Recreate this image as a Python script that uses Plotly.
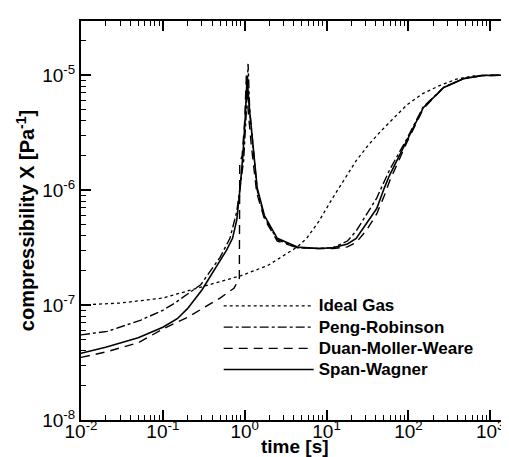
import plotly.graph_objects as go

# ---- data ----
ideal_t = [0.01, 0.03, 0.1, 0.22, 0.5, 0.9, 1.9, 3, 4.4, 5.7, 8, 11.6, 16, 23, 33, 47, 70, 96, 150, 240, 385, 600, 1000, 2000]
ideal_x = [1.0e-7, 1.04e-7, 1.15e-7, 1.35e-7, 1.6e-7, 1.8e-7, 2.2e-7, 2.7e-7, 3.2e-7, 3.8e-7, 5.3e-7, 8.3e-7,
           1.2e-6, 1.8e-6, 2.5e-6, 3.3e-6, 4.4e-6, 5.5e-6, 6.9e-6, 8.1e-6, 9.2e-6, 9.8e-6, 1.0e-5, 1.0e-5]

pr_t = [0.01, 0.021, 0.054, 0.1, 0.14, 0.29, 0.5, 0.66, 0.8, 0.9, 0.97, 1.05, 1.1, 1.15, 1.25, 1.42, 1.74, 2.5,
        4.4, 8, 12, 18, 23, 31, 41, 51, 59, 96, 152, 270, 470, 800, 1200, 2000]
pr_x = [5.5e-8, 5.9e-8, 7.4e-8, 9.0e-8, 1.04e-7, 1.5e-7, 2.6e-7, 3.8e-7, 6.5e-7, 1.3e-6, 1.8e-6, 5.0e-6, 1.25e-5,
        5.0e-6, 2.6e-6, 1.0e-6, 5.8e-7, 3.7e-7, 3.15e-7, 3.1e-7, 3.15e-7, 3.6e-7, 4.4e-7, 6.2e-7, 8.5e-7, 1.2e-6,
        1.5e-6, 2.8e-6, 5.3e-6, 7.8e-6, 9.3e-6, 9.9e-6, 1.0e-5, 1.0e-5]

dmw_t = [0.01, 0.02, 0.05, 0.105, 0.2, 0.29, 0.5, 0.74, 0.86, 0.87, 0.93, 1.0, 1.05, 1.1, 1.2, 1.4, 1.74, 2.5,
         4.4, 8, 12, 18, 23, 31, 41, 51, 59, 96, 152, 270, 470, 800, 1200, 2000]
dmw_x = [3.5e-8, 3.9e-8, 4.7e-8, 6.3e-8, 7.8e-8, 9.1e-8, 1.15e-7, 1.4e-7, 1.7e-7, 1.7e-6, 2.0e-6, 4.0e-6, 1.05e-5,
         5.0e-6, 2.5e-6, 9.5e-7, 5.6e-7, 3.6e-7, 3.15e-7, 3.1e-7, 3.1e-7, 3.2e-7, 3.5e-7, 4.5e-7, 6.2e-7, 9.0e-7,
         1.2e-6, 2.6e-6, 5.1e-6, 7.8e-6, 9.3e-6, 9.9e-6, 1.0e-5, 1.0e-5]

sw_t = [0.01, 0.02, 0.05, 0.1, 0.15, 0.2, 0.3, 0.46, 0.6, 0.71, 0.8, 0.88, 0.95, 1.02, 1.07, 1.13, 1.23, 1.42,
        1.74, 2.5, 4.4, 8, 12, 18, 23, 31, 41, 51, 59, 96, 152, 270, 470, 800, 1200, 2000]
sw_x = [3.8e-8, 4.3e-8, 5.2e-8, 6.4e-8, 7.6e-8, 9.3e-8, 1.35e-7, 2.2e-7, 3.0e-7, 3.8e-7, 5.5e-7, 1.05e-6, 2.0e-6,
        4.5e-6, 9.8e-6, 5.5e-6, 2.8e-6, 1.05e-6, 6.0e-7, 3.8e-7, 3.2e-7, 3.1e-7, 3.15e-7, 3.4e-7, 3.8e-7, 5.2e-7,
        6.9e-7, 1.05e-6, 1.35e-6, 2.7e-6, 5.2e-6, 7.8e-6, 9.3e-6, 9.9e-6, 1.0e-5, 1.0e-5]

x_tickvals = [1e-2, 1e-1, 1e0, 1e1, 1e2, 1e3]
x_ticktext = ["10<sup>-2</sup>", "10<sup>-1</sup>", "10<sup>0</sup>", "10<sup>1</sup>", "10<sup>2</sup>", "10<sup>3</sup>"]
y_tickvals = [1e-8, 1e-7, 1e-6, 1e-5]
y_ticktext = ["10<sup>-8</sup>", "10<sup>-7</sup>", "10<sup>-6</sup>", "10<sup>-5</sup>"]
x_title = "time [s]"
y_title = "compressibility X [Pa<sup>-1</sup>]"

series = [
    ("Ideal Gas", ideal_t, ideal_x, "dot", 1.3),
    ("Peng-Robinson", pr_t, pr_x, "dashdot", 1.4),
    ("Duan-Moller-Weare", dmw_t, dmw_x, "9px,6px", 1.4),
    ("Span-Wagner", sw_t, sw_x, "solid", 1.6),
]

fig = go.Figure()
for name, t, x, dash, w in series:
    fig.add_trace(go.Scatter(x=t, y=x, mode="lines",
                             name='<span style="font-size:17px">' + name + '</span>',
                             line=dict(color="black", width=w, dash=dash)))

font_family = "Liberation Sans, Arial, sans-serif"
axis_common = dict(
    type="log", showgrid=False, zeroline=False,
    showline=True, linecolor="black", linewidth=2, mirror="ticks",
    ticks="inside", ticklen=10, tickwidth=1.5, tickcolor="black",
    tickfont=dict(family=font_family, size=19, color="black"),
    minor=dict(ticks="inside", ticklen=5, tickwidth=1, tickcolor="black", dtick="D1", showgrid=False),
)

fig.update_layout(
    width=509, height=457,
    margin=dict(l=73, r=1, t=13, b=45),
    plot_bgcolor="white", paper_bgcolor="white",
    font=dict(family=font_family, color="black"),
    xaxis=dict(axis_common, range=[-2, 3.29], tickvals=x_tickvals, ticktext=x_ticktext,
               ticklabelstandoff=-7),
    yaxis=dict(axis_common, range=[-8, -4.53], tickvals=y_tickvals, ticktext=y_ticktext,
               title=dict(text=y_title, font=dict(family=font_family, size=20, weight="bold"), standoff=2)),
    legend=dict(x=0.318, y=0.325, xanchor="left", yanchor="top", bgcolor="rgba(0,0,0,0)",
                font=dict(family=font_family, size=14, weight="bold", color="black"),
                itemwidth=90, tracegroupgap=0),
    showlegend=True,
    annotations=[dict(text=x_title, xref="paper", yref="paper", x=0.494, y=-0.066,
                      yanchor="middle", xanchor="center", showarrow=False,
                      font=dict(family=font_family, size=19, weight="bold", color="black"))],
)

fig.write_html("out.html")
